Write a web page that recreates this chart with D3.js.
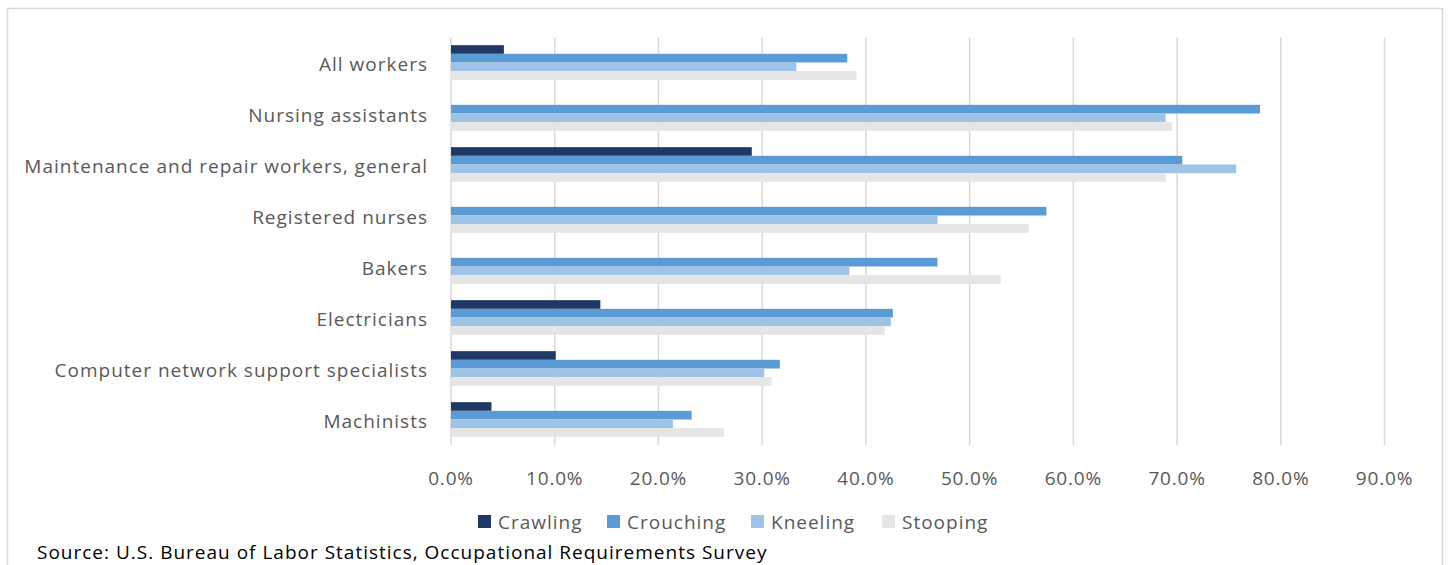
<!DOCTYPE html>
<html lang="en">
<head>
<meta charset="UTF-8">
<title>Physical demands by occupation</title>
<script src="https://d3js.org/d3.v7.min.js"></script>
<style>
    body { margin: 0; background: #fff; }
    text { font-family: "Open Sans", sans-serif; letter-spacing: 1px; }
    .cat text, .tick-label, .legend text { fill: #595959; font-size: 19px; }
    .tick-label { letter-spacing: 0.8px; }
    .source { fill: #000; font-size: 19px; }
</style>
</head>
<body>
<svg id="chart" width="1448" height="565"></svg>
<script>
    // data (share of workers)
    var categories = ["All workers", "Nursing assistants", "Maintenance and repair workers, general",
        "Registered nurses", "Bakers", "Electricians", "Computer network support specialists", "Machinists"];
    var seriesNames = ["Crawling", "Crouching", "Kneeling", "Stooping"];
    var crawling  = [0.051, 0, 0.290, 0, 0, 0.144, 0.101, 0.039];
    var crouching = [0.382, 0.780, 0.705, 0.574, 0.469, 0.426, 0.317, 0.232];
    var kneeling  = [0.333, 0.689, 0.757, 0.469, 0.384, 0.424, 0.302, 0.214];
    var stooping  = [0.391, 0.695, 0.689, 0.557, 0.530, 0.418, 0.309, 0.263];
    var xTicks = [0, 0.1, 0.2, 0.3, 0.4, 0.5, 0.6, 0.7, 0.8, 0.9];

    var colors = ["#203864", "#5b9bd5", "#9dc3e6", "#e5e5e5"];
    var seriesValues = [crawling, crouching, kneeling, stooping];

    var svg = d3.select("#chart");

    // outer frame
    svg.append("rect")
        .attr("x", 7.5).attr("y", 8.5)
        .attr("width", 1435).attr("height", 600)
        .attr("fill", "none")
        .attr("stroke", "#d9d9d9")
        .attr("stroke-width", 1.5);

    var x = d3.scaleLinear().domain([0, 0.9]).range([451, 1384.5]);
    var y = d3.scaleBand().domain(categories).range([37, 445])
        .paddingInner(0.32).paddingOuter(0.16);
    var ySub = d3.scaleBand().domain(seriesNames).range([0, y.bandwidth()]);
    var color = d3.scaleOrdinal().domain(seriesNames).range(colors);

    // gridlines
    svg.append("g").selectAll("line")
        .data(xTicks)
        .enter().append("line")
        .attr("x1", function(d) { return x(d); })
        .attr("x2", function(d) { return x(d); })
        .attr("y1", 37.5)
        .attr("y2", 445)
        .attr("stroke", "#d9d9d9")
        .attr("stroke-width", 1.5);

    // tick labels
    svg.append("g").selectAll("text")
        .data(xTicks)
        .enter().append("text")
        .attr("class", "tick-label")
        .attr("x", function(d) { return x(d); })
        .attr("y", 485)
        .attr("text-anchor", "middle")
        .text(function(d) { return d3.format(".1%")(d); });

    // bars
    var rows = categories.map(function(c, i) {
        return { cat: c, vals: seriesNames.map(function(s, j) { return { key: s, value: seriesValues[j][i] }; }) };
    });

    var group = svg.append("g").selectAll("g")
        .data(rows)
        .enter().append("g")
        .attr("class", "cat")
        .attr("transform", function(d) { return "translate(0," + y(d.cat) + ")"; });

    group.selectAll("rect")
        .data(function(d) { return d.vals; })
        .enter().append("rect")
        .attr("x", x(0))
        .attr("y", function(d) { return ySub(d.key); })
        .attr("width", function(d) { return x(d.value) - x(0); })
        .attr("height", ySub.bandwidth())
        .attr("fill", function(d) { return color(d.key); });

    group.append("text")
        .attr("x", 428)
        .attr("y", y.bandwidth() / 2 + 2)
        .attr("dy", "0.35em")
        .attr("text-anchor", "end")
        .text(function(d) { return d.cat; });

    // legend
    var legendX = [478, 607, 751, 882];
    var legend = svg.append("g").attr("class", "legend").selectAll("g")
        .data(seriesNames)
        .enter().append("g")
        .attr("transform", function(d, i) { return "translate(" + legendX[i] + ",515)"; });

    legend.append("rect")
        .attr("width", 13).attr("height", 13)
        .attr("fill", function(d) { return color(d); });

    legend.append("text")
        .attr("x", 20)
        .attr("y", 13.5)
        .text(function(d) { return d; });

    svg.append("text")
        .attr("class", "source")
        .attr("x", 37)
        .attr("y", 559)
        .text("Source: U.S. Bureau of Labor Statistics, Occupational Requirements Survey");
</script>
</body>
</html>
